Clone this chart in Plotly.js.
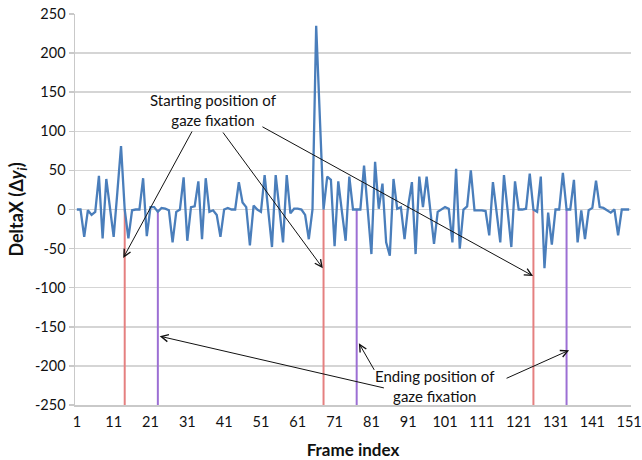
<!DOCTYPE html>
<html>
<head>
<meta charset="utf-8">
<script src="https://cdn.plot.ly/plotly-3.0.1.min.js"></script>
<style>
  html, body { margin: 0; padding: 0; background: #fff; }
  #chart { width: 642px; height: 460px; }
</style>
</head>
<body>
<div id="chart"></div>
<script>
// Horizontal displacement between consecutive frames
const deltaValues = [
  0, 0, -35, -1, -7, -3, 43, -37, 39, 2,
  -35, 22, 81, 0, -37, -1, 0, 0, 40, -34,
  3, 3, -3, 2, 1, -1, -42, -3, 0, 41,
  -40, 3, 4, 36, -38, 40, -3, -1, -7, -35,
  0, 2, 0, 0, 35, 9, 3, -46, 5, 0,
  -3, 44, 0, -48, 44, 0, -42, 44, -5, 1,
  1, 0, -7, -38, 0, 235, 115, 0, 42, 38,
  -47, 36, -3, -40, 42, 0, 0, 0, 56, -3,
  -57, 61, 1, 33, -42, -59, 39, 1, 3, -38,
  5, 35, -57, 42, 3, 42, -1, -44, -3, 0,
  3, 1, -42, 52, -50, 0, 4, 50, -1, -1,
  -1, -2, -33, 35, 0, -42, 44, 0, -48, 36,
  0, 0, 1, 46, 0, -3, 42, -75, -4, -45,
  0, 0, 47, 0, 0, 38, -42, -1, -38, -1,
  2, 37, 3, 2, -1, -4, 0, -33, 0, 0,
  0
];

// Frames where a gaze fixation starts and ends
const fixationStartFrames = [14, 68, 125];
const fixationEndFrames = [23, 77, 134];

// Axis ticks
const xTickValues = [1, 11, 21, 31, 41, 51, 61, 71, 81, 91, 101, 111, 121, 131, 141, 151];
const xTickLabels = ['1', '11', '21', '31', '41', '51', '61', '71', '81', '91', '101', '111', '121', '131', '141', '151'];
const yTickValues = [250, 200, 150, 100, 50, 0, -50, -100, -150, -200, -250];
const yTickLabels = ['250', '200', '150', '100', '50', '0', '-50', '-100', '-150', '-200', '-250'];
const yMin = -250;
const yMax = 250;

const frameIndex = deltaValues.map((_, i) => i + 1);

// Vertical markers drawn from the zero line down to the bottom of the axis
function markerSegments(frames) {
  const xs = [], ys = [];
  frames.forEach(f => { xs.push(f, f, null); ys.push(0, yMin, null); });
  return { x: xs, y: ys };
}
const startSeg = markerSegments(fixationStartFrames);
const endSeg = markerSegments(fixationEndFrames);

const traces = [
  {
    x: startSeg.x, y: startSeg.y, type: 'scatter', mode: 'lines',
    line: { color: '#e58080', width: 2 }, hoverinfo: 'skip'
  },
  {
    x: endSeg.x, y: endSeg.y, type: 'scatter', mode: 'lines',
    line: { color: '#9c6fd4', width: 2 }, hoverinfo: 'skip'
  },
  {
    x: frameIndex, y: deltaValues, type: 'scatter', mode: 'lines',
    line: { color: '#4a7ebb', width: 2.3 }
  }
];

// Arrow annotations: head point (x, y) and tail point (ax, ay) in data units
function arrow(tail, head) {
  return {
    xref: 'x', yref: 'y', axref: 'x', ayref: 'y',
    x: head[0], y: head[1], ax: tail[0], ay: tail[1],
    text: '', showarrow: true, arrowhead: 5, arrowsize: 1.4,
    arrowwidth: 1, arrowcolor: '#111', standoff: 0, startstandoff: 0
  };
}

const labelFont = { family: 'Lato, "Open Sans", sans-serif', size: 15, color: '#111' };

const annotations = [
  {
    xref: 'x', yref: 'y', x: 38.2, y: 127, showarrow: false,
    text: 'Starting position of<br>gaze fixation', font: labelFont, align: 'center'
  },
  {
    xref: 'x', yref: 'y', x: 98.4, y: -226, showarrow: false,
    text: 'Ending position of<br>gaze fixation', font: labelFont, align: 'center'
  },
  arrow([32.5, 101.7], [13.6, -62]),
  arrow([40.4, 100.4], [67.8, -75]),
  arrow([51, 106.8], [124.9, -85]),
  arrow([84.8, -228.6], [23.5, -162]),
  arrow([82, -207], [77.6, -171]),
  arrow([117.3, -216.7], [134.7, -180])
];

const layout = {
  width: 642, height: 460,
  margin: { l: 75, r: 11, t: 14, b: 55 },
  paper_bgcolor: '#ffffff', plot_bgcolor: '#ffffff',
  showlegend: false,
  font: { family: 'Lato, "Open Sans", sans-serif', size: 14, color: '#111' },
  xaxis: {
    range: [0.5, 151.5],
    tickmode: 'array', tickvals: xTickValues, ticktext: xTickLabels,
    showgrid: false, zeroline: false,
    showline: true, linecolor: '#c9c9c9', linewidth: 1.5,
    ticks: 'outside', ticklen: 3, tickcolor: 'rgba(0,0,0,0)',
    tickfont: { size: 14.5, color: '#111' },
    title: { text: '<b>Frame index</b>', font: { size: 17, color: '#111' }, standoff: 19 }
  },
  yaxis: {
    range: [yMin, yMax],
    tickmode: 'array', tickvals: yTickValues, ticktext: yTickLabels,
    showgrid: true, gridcolor: '#d5d5d5', gridwidth: 1.5,
    zeroline: false,
    showline: true, linecolor: '#c9c9c9', linewidth: 1.5,
    ticks: 'outside', ticklen: 5, tickcolor: '#c9c9c9', tickwidth: 1.5,
    tickfont: { size: 14.5, color: '#111' },
    title: { text: '<b>DeltaX (Δ<i>y</i><sub><i>i</i></sub>)</b>', font: { size: 18, color: '#111' }, standoff: 6 }
  },
  annotations: annotations
};

Plotly.newPlot('chart', traces, layout, { displayModeBar: false, staticPlot: true });
</script>
</body>
</html>
